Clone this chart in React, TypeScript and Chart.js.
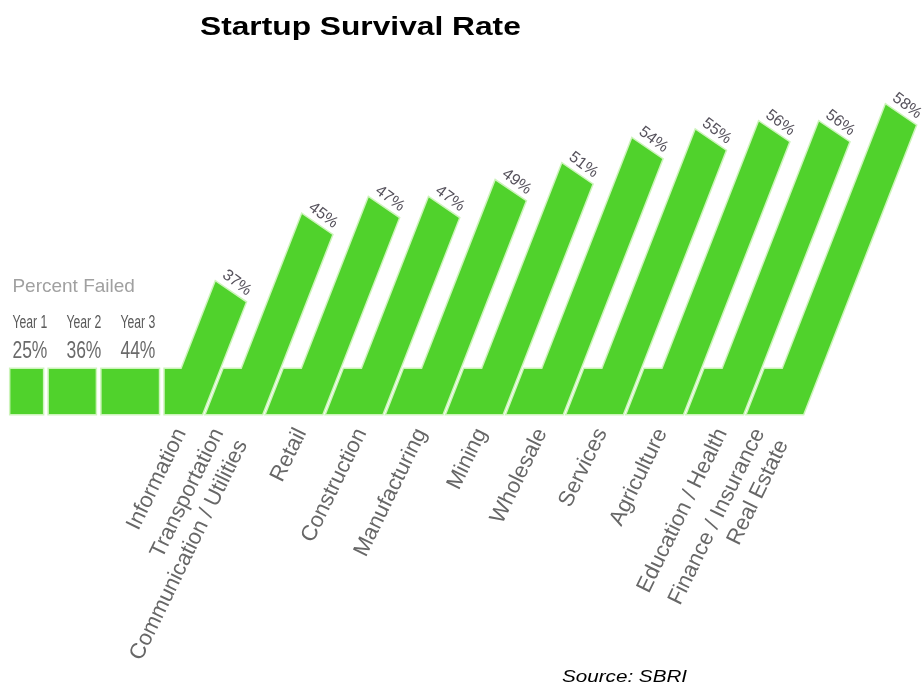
import React, { useEffect, useRef } from 'react';
import { Chart, registerables } from 'chart.js';

Chart.register(...registerables);

// ---------- data ----------
const chartTitle = 'Startup Survival Rate';
const sourceNote = 'Source: SBRI';
const failedHeading = 'Percent Failed';
const yearLabels = ['Year 1', 'Year 2', 'Year 3'];
const yearFailed = [25, 36, 44];
const industries: (string | string[])[] = [
  'Information',
  ['Transportation', 'Communication / Utilities'],
  'Retail',
  'Construction',
  'Manufacturing',
  'Mining',
  'Wholesale',
  'Services',
  'Agriculture',
  'Education / Health',
  ['Finance / Insurance', 'Real Estate'],
];
const survival = [37, 45, 47, 47, 49, 51, 54, 55, 56, 56, 58];

// ---------- style ----------
const GREEN = '#50d22c';
const HALO = '#cdf4bb';
const FONT = '"Liberation Sans", Arial, Helvetica, sans-serif';
const BAND = 45; // px height of the ground band
const SLANT = 0.39; // horizontal px per vertical px of the slanted bars
const BAR_W = 38; // horizontal width of a slanted bar
const TOP_SLOPE = 0.68; // slope of a bar's cut top
const GAP = 4; // px gap between pieces
const BAR_SHIFT = 0.35; // bar right-foot offset from its tick (x units)
const INFO_LEFT = -0.27; // left edge of first bar foot (x units)
const YEAR_GAP = 0.1; // x units between year blocks
const YEAR_W_PER_PCT = 0.0216; // x units per percent for year blocks
const MULTILINE_SHIFT = 0.38; // tick shift for two-line labels (x units)

function scaledText(
  ctx: CanvasRenderingContext2D,
  text: string,
  x: number,
  y: number,
  font: string,
  color: string,
  sx: number,
  align: CanvasTextAlign = 'left'
) {
  ctx.save();
  ctx.translate(x, y);
  ctx.scale(sx, 1);
  ctx.font = font;
  ctx.fillStyle = color;
  ctx.textAlign = align;
  ctx.textBaseline = 'alphabetic';
  ctx.fillText(text, 0, 0);
  ctx.restore();
}

function shape(ctx: CanvasRenderingContext2D, pts: number[][]) {
  ctx.beginPath();
  pts.forEach((p, k) => (k === 0 ? ctx.moveTo(p[0], p[1]) : ctx.lineTo(p[0], p[1])));
  ctx.closePath();
  ctx.lineJoin = 'miter';
  ctx.strokeStyle = HALO;
  ctx.lineWidth = 3;
  ctx.stroke();
  ctx.fillStyle = GREEN;
  ctx.fill();
}

const slantPlugin = {
  id: 'slantBars',
  afterDatasetsDraw(chart: any) {
    const { ctx, scales } = chart;
    const xs = scales.x;
    const ys = scales.y;
    const meta = chart.getDatasetMeta(0);
    const bottom = ys.getPixelForValue(ys.min);
    const bandTop = bottom - BAND;
    ctx.save();

    // year blocks (width follows percent failed)
    const rects: number[][] = [];
    let u = INFO_LEFT - YEAR_GAP;
    for (let j = yearFailed.length - 1; j >= 0; j--) {
      const w = yearFailed[j] * YEAR_W_PER_PCT;
      rects[j] = [xs.getPixelForValue(u - w), xs.getPixelForValue(u)];
      u -= w + YEAR_GAP;
    }
    rects.forEach(([l, r]) => {
      shape(ctx, [
        [l, bottom],
        [l, bandTop],
        [r, bandTop],
        [r, bottom],
      ]);
    });

    // slanted bars, positioned from the bar elements and the scales
    const labelPos: { x: number; y: number; a: number; t: string }[] = [];
    meta.data.forEach((el: any, i: number) => {
      const xr = xs.getPixelForValue(i + BAR_SHIFT);
      const top = el.y;
      const h = bottom - top;
      const pts: number[][] = [];
      if (i === 0) {
        const xl = xs.getPixelForValue(INFO_LEFT);
        pts.push([xl, bottom], [xl, bandTop]);
      } else {
        const xl = xs.getPixelForValue(i - 1 + BAR_SHIFT) + GAP;
        pts.push([xl, bottom], [xl + SLANT * BAND, bandTop]);
      }
      pts.push([xr - BAR_W + SLANT * BAND, bandTop]);
      const tl = [xr - BAR_W + SLANT * h, top];
      const t = BAR_W / (1 + TOP_SLOPE * SLANT);
      const tr = [tl[0] + t, top + TOP_SLOPE * t];
      pts.push(tl, tr, [xr, bottom]);
      shape(ctx, pts);
      const len = Math.hypot(1, TOP_SLOPE);
      const dx = 1 / len;
      const dy = TOP_SLOPE / len;
      const mx = (tl[0] + tr[0]) / 2 + dy * 11;
      const my = (tl[1] + tr[1]) / 2 - dx * 11;
      labelPos.push({ x: mx, y: my, a: Math.atan2(TOP_SLOPE, 1) + 0.05, t: survival[i] + '%' });
    });

    labelPos.forEach((p) => {
      ctx.save();
      ctx.translate(p.x, p.y);
      ctx.rotate(p.a);
      ctx.font = `16px ${FONT}`;
      ctx.fillStyle = '#56525c';
      ctx.textAlign = 'center';
      ctx.textBaseline = 'middle';
      ctx.fillText(p.t, 0, 0);
      ctx.restore();
    });

    // left legend texts
    const x0 = rects[0][0];
    ctx.font = `19px ${FONT}`;
    ctx.fillStyle = '#a0a0a0';
    ctx.textAlign = 'left';
    ctx.textBaseline = 'alphabetic';
    ctx.fillText(failedHeading, x0 + 2, bandTop - 77);
    yearLabels.forEach((lab, j) => {
      scaledText(ctx, lab, x0 + 2 + j * 54, bandTop - 41, `18px ${FONT}`, '#5a5a5a', 0.68);
      scaledText(ctx, yearFailed[j] + '%', x0 + 2 + j * 54, bandTop - 11, `23px ${FONT}`, '#6a6a6a', 0.76);
    });

    // title and source
    scaledText(ctx, chartTitle, 200, 35, `bold 26px ${FONT}`, '#000000', 1.22);
    scaledText(ctx, sourceNote, 562, 682, `italic 16px ${FONT}`, '#000000', 1.29);
    ctx.restore();
  },
};

export default function App() {
  const ref = useRef<HTMLCanvasElement | null>(null);
  useEffect(() => {
    if (!ref.current) return;
    const chart = new Chart(ref.current, {
      type: 'bar',
      data: {
        datasets: [
          {
            label: 'Survival',
            data: survival.map((v, i) => ({ x: i, y: v })),
            backgroundColor: 'rgba(0,0,0,0)',
            borderWidth: 0,
          },
        ],
      },
      options: {
        animation: false,
        responsive: true,
        maintainAspectRatio: false,
        layout: { padding: { top: 88, left: 10, right: 8, bottom: 0 } },
        plugins: {
          legend: { display: false },
          title: { display: false },
          tooltip: { enabled: false },
        },
        scales: {
          x: {
            type: 'linear',
            offset: false,
            min: -2.845,
            max: 12.21,
            grid: { display: false, drawTicks: false, offset: false },
            border: { display: false },
            afterBuildTicks: (scale: any) => {
              scale.ticks = industries.map((lab, i) => ({
                value: i - (Array.isArray(lab) ? MULTILINE_SHIFT : 0),
              }));
            },
            afterFit: (scale: any) => {
              scale.height = 270;
              scale.paddingLeft = 0;
              scale.paddingRight = 0;
            },
            ticks: {
              autoSkip: false,
              minRotation: 64,
              maxRotation: 64,
              padding: 10,
              color: '#676767',
              font: { family: FONT, size: 22 },
              callback: (value: any) => industries[Math.round(value as number)] ?? '',
            },
          },
          y: {
            type: 'linear',
            display: false,
            min: 21.3,
            max: 60,
          },
        },
      },
      plugins: [slantPlugin],
    } as any);
    return () => chart.destroy();
  }, []);
  return (
    <div style={{ position: 'absolute', left: 0, top: 0, width: 923, height: 684, background: '#ffffff' }}>
      <canvas ref={ref} />
    </div>
  );
}
